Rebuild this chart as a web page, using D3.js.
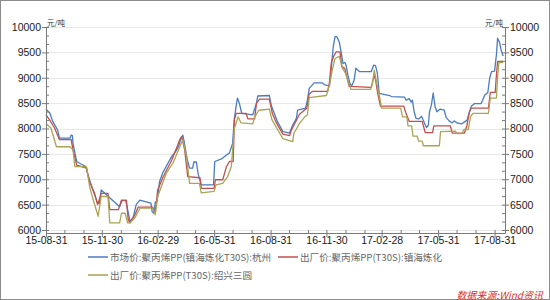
<!doctype html>
<html lang="zh">
<head>
<meta charset="utf-8">
<script src="https://d3js.org/d3.v7.min.js"></script>
<style>
body { margin: 0; background: #fff; }
.tick text { font-family: "Liberation Sans", Arial, sans-serif; font-size: 10.5px; fill: #1a1a1a; }
.legend text { font-family: "Noto Sans CJK SC", sans-serif; font-size: 9.6px; fill: #666; }
</style>
</head>
<body>
<script>
// series: [date, price]
var marketHZ = [
["2015-08-31",8380],["2015-09-06",8310],["2015-09-11",8140],["2015-09-19",7970],["2015-09-22",7810],["2015-10-09",7810],["2015-10-11",7870],["2015-10-13",7860],["2015-10-14",7700],["2015-10-20",7350],["2015-10-27",7300],["2015-11-04",7250],["2015-11-07",7100],["2015-11-15",6800],["2015-11-23",6530],["2015-11-26",6520],["2015-11-29",6790],["2015-12-29",6460],["2016-01-02",6580],["2016-01-08",6580],["2016-01-15",6170],["2016-01-20",6250],["2016-01-25",6500],["2016-01-31",6590],["2016-02-09",6560],["2016-02-18",6530],["2016-02-20",6360],["2016-02-23",6330],["2016-02-25",6550],["2016-02-28",6560],["2016-03-03",6950],["2016-03-08",7120],["2016-03-16",7300],["2016-03-23",7450],["2016-03-30",7560],["2016-04-03",7650],["2016-04-07",7800],["2016-04-10",7870],["2016-04-12",7750],["2016-04-17",7400],["2016-04-21",7220],["2016-04-26",7220],["2016-04-28",7340],["2016-05-02",7340],["2016-05-05",7100],["2016-05-10",6890],["2016-05-30",6890],["2016-06-01",7350],["2016-06-12",7400],["2016-06-17",7450],["2016-06-25",7520],["2016-06-30",7700],["2016-07-03",8200],["2016-07-06",8450],["2016-07-08",8600],["2016-07-11",8500],["2016-07-15",8300],["2016-08-02",8270],["2016-08-08",8500],["2016-08-10",8640],["2016-08-29",8650],["2016-09-01",8460],["2016-09-11",8140],["2016-09-20",7940],["2016-10-01",7910],["2016-10-06",8070],["2016-10-12",8200],["2016-10-14",8360],["2016-10-27",8400],["2016-10-30",8560],["2016-11-02",8790],["2016-11-10",8900],["2016-11-23",8900],["2016-11-27",8860],["2016-12-05",8840],["2016-12-08",9200],["2016-12-11",9600],["2016-12-14",9810],["2016-12-17",9810],["2016-12-21",9700],["2016-12-24",9500],["2016-12-27",9280],["2016-12-30",9300],["2017-01-01",9250],["2017-01-04",9050],["2017-01-07",8900],["2017-01-10",8830],["2017-01-14",8950],["2017-01-17",9190],["2017-01-23",9120],["2017-02-11",9120],["2017-02-15",9250],["2017-02-18",9240],["2017-02-21",9090],["2017-02-24",8690],["2017-03-13",8650],["2017-03-16",8630],["2017-04-06",8620],["2017-04-09",8560],["2017-04-14",8590],["2017-04-17",8520],["2017-04-19",8560],["2017-04-22",8330],["2017-04-25",8200],["2017-04-30",8190],["2017-05-04",8240],["2017-05-09",8100],["2017-05-12",8020],["2017-05-15",8060],["2017-05-17",8330],["2017-05-20",8460],["2017-05-23",8700],["2017-05-26",8430],["2017-05-29",8330],["2017-06-03",8380],["2017-06-07",8370],["2017-06-10",8360],["2017-06-13",8220],["2017-06-18",8150],["2017-06-23",8110],["2017-06-26",8150],["2017-07-01",8110],["2017-07-08",8090],["2017-07-13",8130],["2017-07-17",8160],["2017-07-24",8440],["2017-07-29",8490],["2017-08-09",8490],["2017-08-15",8660],["2017-08-20",8710],["2017-08-23",8990],["2017-08-26",9120],["2017-08-31",9130],["2017-09-03",9450],["2017-09-05",9780],["2017-09-08",9700],["2017-09-11",9530],["2017-09-14",9430]
];

var factoryZH = [
["2015-08-31",8270],["2015-09-06",8170],["2015-09-14",8010],["2015-09-22",7780],["2015-10-11",7780],["2015-10-14",7580],["2015-10-20",7280],["2015-11-05",7220],["2015-11-10",6950],["2015-11-18",6730],["2015-11-23",6500],["2015-11-29",6720],["2015-12-10",6720],["2015-12-13",6400],["2015-12-27",6400],["2016-01-01",6590],["2016-01-09",6590],["2016-01-12",6200],["2016-01-15",6140],["2016-01-23",6300],["2016-01-28",6450],["2016-02-21",6450],["2016-02-25",6330],["2016-02-29",6790],["2016-03-09",7050],["2016-03-23",7380],["2016-04-05",7780],["2016-04-08",7840],["2016-04-13",7580],["2016-04-18",7050],["2016-05-08",7030],["2016-05-10",6820],["2016-05-31",6820],["2016-06-02",6990],["2016-06-14",6990],["2016-06-20",7250],["2016-06-25",7350],["2016-07-01",7350],["2016-07-03",8170],["2016-07-06",8300],["2016-07-22",8300],["2016-07-25",8190],["2016-08-05",8190],["2016-08-08",8500],["2016-08-13",8580],["2016-08-29",8580],["2016-09-03",8290],["2016-09-10",8100],["2016-09-20",7890],["2016-10-01",7860],["2016-10-04",7970],["2016-10-09",8090],["2016-10-17",8280],["2016-10-29",8400],["2016-11-02",8680],["2016-11-07",8730],["2016-12-02",8730],["2016-12-05",8920],["2016-12-08",9300],["2016-12-12",9430],["2016-12-16",9510],["2016-12-22",9510],["2016-12-25",9220],["2016-12-30",9180],["2017-01-06",8830],["2017-02-11",8810],["2017-02-14",8960],["2017-02-17",9040],["2017-02-21",8730],["2017-02-26",8440],["2017-04-05",8440],["2017-04-08",8320],["2017-04-14",8140],["2017-05-05",8140],["2017-05-08",8010],["2017-05-10",7920],["2017-05-22",7920],["2017-05-24",8050],["2017-06-20",8050],["2017-06-23",7910],["2017-07-13",7910],["2017-07-17",8060],["2017-07-21",8330],["2017-07-24",8400],["2017-08-21",8400],["2017-08-24",8710],["2017-09-01",8710],["2017-09-03",9050],["2017-09-05",9320],["2017-09-14",9320]
];

var factorySX = [
["2015-08-31",8100],["2015-09-08",8010],["2015-09-17",7640],["2015-10-09",7640],["2015-10-14",7580],["2015-10-17",7250],["2015-11-05",7250],["2015-11-10",6860],["2015-11-16",6590],["2015-11-24",6270],["2015-11-29",6660],["2015-12-10",6660],["2015-12-13",6140],["2015-12-29",6140],["2016-01-01",6330],["2016-01-07",6330],["2016-01-11",6140],["2016-01-15",6140],["2016-01-23",6240],["2016-01-31",6430],["2016-02-21",6430],["2016-02-25",6300],["2016-02-29",6660],["2016-03-14",7120],["2016-03-25",7320],["2016-04-05",7640],["2016-04-10",7780],["2016-04-16",7450],["2016-04-21",6920],["2016-05-07",6920],["2016-05-10",6730],["2016-05-31",6760],["2016-06-03",6890],["2016-06-14",6920],["2016-06-22",7050],["2016-06-28",7250],["2016-07-03",8000],["2016-07-09",8230],["2016-07-14",8110],["2016-08-02",8090],["2016-08-05",8230],["2016-08-12",8360],["2016-08-29",8380],["2016-09-02",8180],["2016-09-10",8010],["2016-09-20",7800],["2016-10-06",7740],["2016-10-08",7910],["2016-10-12",7990],["2016-10-17",8100],["2016-10-25",8220],["2016-10-30",8270],["2016-11-02",8610],["2016-11-30",8650],["2016-12-05",8860],["2016-12-09",9120],["2016-12-14",9380],["2016-12-21",9420],["2016-12-26",9190],["2016-12-31",9090],["2017-01-09",8770],["2017-02-10",8770],["2017-02-13",8880],["2017-02-16",9150],["2017-02-19",8950],["2017-02-24",8660],["2017-02-28",8400],["2017-03-31",8400],["2017-04-03",8230],["2017-04-10",8230],["2017-04-12",8050],["2017-04-18",8050],["2017-04-20",7850],["2017-04-27",7850],["2017-04-29",7750],["2017-05-05",7750],["2017-05-07",7660],["2017-06-02",7660],["2017-06-04",7940],["2017-06-28",7950],["2017-07-01",7900],["2017-07-09",7900],["2017-07-12",7980],["2017-07-19",7980],["2017-07-23",8240],["2017-07-27",8300],["2017-08-21",8300],["2017-08-24",8600],["2017-09-03",8600],["2017-09-05",9020],["2017-09-07",9300],["2017-09-14",9300]
];

var seriesNames = ["市场价:聚丙烯PP(镇海炼化T30S):杭州", "出厂价:聚丙烯PP(T30S):镇海炼化", "出厂价:聚丙烯PP(T30S):绍兴三圆"];
var seriesColors = ["#4a7cc0", "#c0504d", "#aaa455"];
var xTickLabels = ["15-08-31","15-11-30","16-02-29","16-05-31","16-08-31","16-11-30","17-02-28","17-05-31","17-08-31"];
var yTicks = [6000,6500,7000,7500,8000,8500,9000,9500,10000];

var parse = d3.timeParse("%Y-%m-%d");
var parseTick = d3.timeParse("%y-%m-%d");

var W = 550, H = 300;
var plotL = 46, plotR = 505, plotT = 27, plotB = 233;

var svg = d3.select("body").append("svg")
    .attr("width", W).attr("height", H);

// outer frame
svg.append("rect")
    .attr("x", 0.5).attr("y", 0.5)
    .attr("width", W - 1).attr("height", H - 1)
    .attr("fill", "#fff").attr("stroke", "#8c8c8c");

var x = d3.scaleTime()
    .domain([parse("2015-08-31"), parse("2017-09-17")])
    .range([plotL, plotR]);
var y = d3.scaleLinear()
    .domain([5941, 10000])
    .range([plotB, plotT]);

// horizontal grid
svg.append("g").selectAll("line")
  .data(yTicks).enter().append("line")
    .attr("x1", plotL).attr("x2", plotR)
    .attr("y1", function(d) { return Math.round(y(d)) + 0.5; })
    .attr("y2", function(d) { return Math.round(y(d)) + 0.5; })
    .attr("stroke", "#e8e8e8");

var majorDates = xTickLabels.map(parseTick);
// month-end minor ticks
var minorDates = d3.timeMonth.range(parse("2015-09-01"), parse("2017-10-01"))
    .map(function(d) { return d3.timeDay.offset(d, -1); });
var minorY = d3.range(6000, 10001, 500 / 3);

// lines
var line = d3.line()
    .x(function(d) { return x(parse(d[0])); })
    .y(function(d) { return y(d[1]); });

[marketHZ, factoryZH, factorySX].forEach(function(s, i) {
  svg.append("path")
    .datum(s)
    .attr("fill", "none")
    .attr("stroke", seriesColors[i])
    .attr("stroke-width", 1.3)
    .attr("stroke-linejoin", "round")
    .attr("d", line);
});

// axes
var axisColor = "#7a7a7a";
var fmtY = d3.format("d");

var xAxis = svg.append("g")
    .attr("transform", "translate(0," + plotB + ")")
    .call(d3.axisBottom(x).tickValues(majorDates).tickFormat(d3.timeFormat("%y-%m-%d")).tickSize(4).tickSizeOuter(0));
xAxis.selectAll(".tick text").attr("dy", "0.6em").attr("y", 5);

svg.append("g")
    .attr("transform", "translate(0," + plotB + ")")
    .call(d3.axisTop(x).tickValues(minorDates).tickFormat("").tickSize(3).tickSizeOuter(0))
    .select(".domain").remove();

var yLeft = svg.append("g")
    .attr("transform", "translate(" + plotL + ",0)")
    .call(d3.axisLeft(y).tickValues(yTicks).tickFormat(fmtY).tickSize(4).tickSizeOuter(0));
svg.append("g")
    .attr("transform", "translate(" + plotL + ",0)")
    .call(d3.axisRight(y).tickValues(minorY).tickFormat("").tickSize(3).tickSizeOuter(0))
    .select(".domain").remove();

var yRight = svg.append("g")
    .attr("transform", "translate(" + plotR + ",0)")
    .call(d3.axisRight(y).tickValues(yTicks).tickFormat(fmtY).tickSize(4).tickSizeOuter(0));
svg.append("g")
    .attr("transform", "translate(" + plotR + ",0)")
    .call(d3.axisLeft(y).tickValues(minorY).tickFormat("").tickSize(3).tickSizeOuter(0))
    .select(".domain").remove();

svg.selectAll(".domain, .tick line").attr("stroke", axisColor);
yLeft.selectAll(".tick text").attr("x", -5);
yRight.selectAll(".tick text").attr("x", 5);

// unit labels
svg.append("text").attr("x", plotL + 1).attr("y", plotT - 1)
    .text("元/吨")
    .style("font-family", "Noto Sans CJK SC").style("font-size", "7.5px").style("fill", "#333");
svg.append("text").attr("x", plotR - 2).attr("y", plotT - 1)
    .attr("text-anchor", "end")
    .text("元/吨")
    .style("font-family", "Noto Sans CJK SC").style("font-size", "7.5px").style("fill", "#333");

// legend
var legendPos = [[88, 257], [278, 257], [88, 275]];
var legend = svg.append("g").attr("class", "legend");
seriesNames.forEach(function(name, i) {
  var p = legendPos[i];
  legend.append("line")
    .attr("x1", p[0]).attr("x2", p[0] + 20)
    .attr("y1", p[1]).attr("y2", p[1])
    .attr("stroke", seriesColors[i]).attr("stroke-width", 1.5);
  legend.append("text")
    .attr("x", p[0] + 22).attr("y", p[1])
    .attr("dominant-baseline", "central")
    .text(name);
});

// source note
svg.append("text")
    .attr("x", 543).attr("y", 294)
    .attr("text-anchor", "end")
    .attr("dominant-baseline", "central")
    .text("数据来源:Wind资讯")
    .style("font-family", "Noto Sans CJK SC")
    .style("font-size", "10px")
    .style("font-style", "italic")
    .style("fill", "#d9332b");
</script>
</body>
</html>
